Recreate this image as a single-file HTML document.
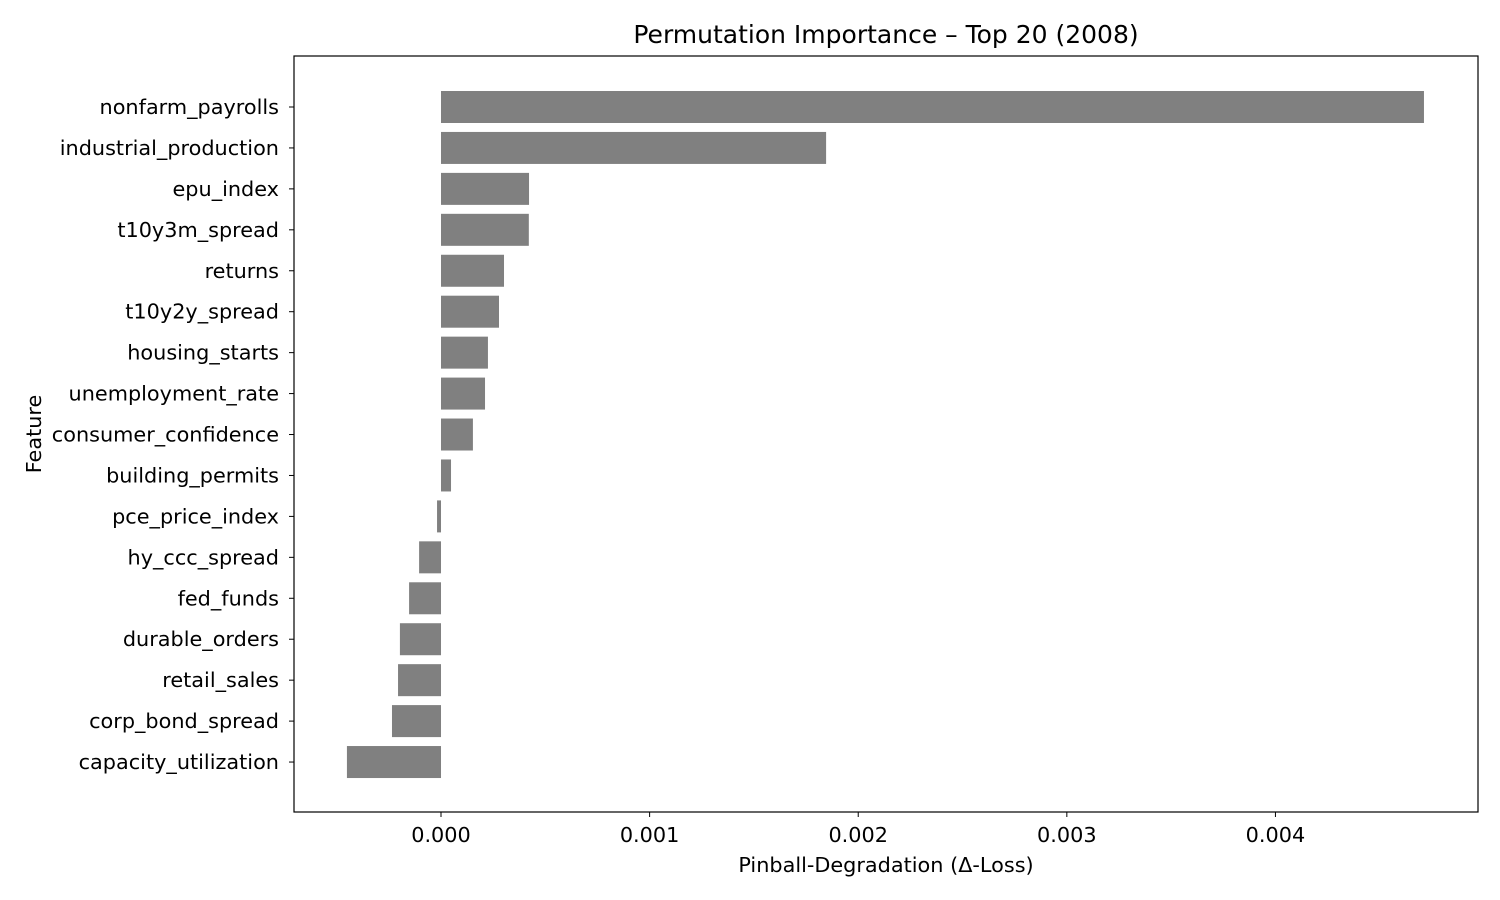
<!DOCTYPE html>
<html><head><meta charset="utf-8"><style>
body{margin:0;background:#fff;}
svg{display:block;font-family:"DejaVu Sans","Liberation Sans",sans-serif;}
</style></head><body>
<svg id="chart" width="1500" height="900"></svg>
<script>
const features=["nonfarm_payrolls","industrial_production","epu_index","t10y3m_spread","returns","t10y2y_spread","housing_starts","unemployment_rate","consumer_confidence","building_permits","pce_price_index","hy_ccc_spread","fed_funds","durable_orders","retail_sales","corp_bond_spread","capacity_utilization"];
const importance=[0.004712,0.001846,0.000422,0.000421,0.000302,0.000278,0.000225,0.000211,0.000153,0.000048,-0.000019,-0.000105,-0.000153,-0.000197,-0.000206,-0.000235,-0.000451];
const xTicks=[0,0.001,0.002,0.003,0.004];
const xTickLabels=["0.000","0.001","0.002","0.003","0.004"];

const NS="http://www.w3.org/2000/svg";
const svg=document.getElementById('chart');
const L=294,R=1478,T=56,B=812;
const xMin=-0.0007047,xMax=0.004971;
const x=v=>L+(v-xMin)/(xMax-xMin)*(R-L);
const yStep=40.94,y0=107;
const y=i=>y0+i*yStep;
function mk(tag,attrs,text){const e=document.createElementNS(NS,tag);for(const k in attrs)e.setAttribute(k,attrs[k]);if(text!==undefined)e.textContent=text;svg.appendChild(e);return e;}
const FS='20.8px';
features.forEach((f,i)=>{
  const v=importance[i];
  const r=mk('rect',{x:Math.min(x(0),x(v)),y:y(i)-16,width:Math.abs(x(v)-x(0)),height:32,fill:'#808080'});
  
  
  const tk=mk('line',{x1:L-5,x2:L,y1:y(i),y2:y(i),stroke:'#000','stroke-width':1});
  
  
  const t=mk('text',{x:L-15,y:y(i)+7,'text-anchor':'end','font-size':FS,fill:'#000'},f);
  
  
});
xTicks.forEach((v,i)=>{
  const tk=mk('line',{x1:x(v),x2:x(v),y1:B,y2:B+5,stroke:'#000','stroke-width':1});
  
  
  const t=mk('text',{x:x(v),y:B+30,'text-anchor':'middle','font-size':FS,fill:'#000'},xTickLabels[i]);
  
  
});
const frame=mk('rect',{x:L,y:T,width:R-L,height:B-T,fill:'none',stroke:'#000','stroke-width':1.2});


const title=mk('text',{x:(L+R)/2,y:43,'text-anchor':'middle','font-size':'25px',fill:'#000'},'Permutation Importance – Top 20 (2008)');


const xl=mk('text',{x:(L+R)/2,y:872,'text-anchor':'middle','font-size':FS,fill:'#000'},'Pinball-Degradation (Δ-Loss)');


const yl=mk('text',{x:41,y:(T+B)/2,'text-anchor':'middle','font-size':FS,fill:'#000',transform:'rotate(-90 41 '+((T+B)/2)+')'},'Feature');


</script>
</body></html>
